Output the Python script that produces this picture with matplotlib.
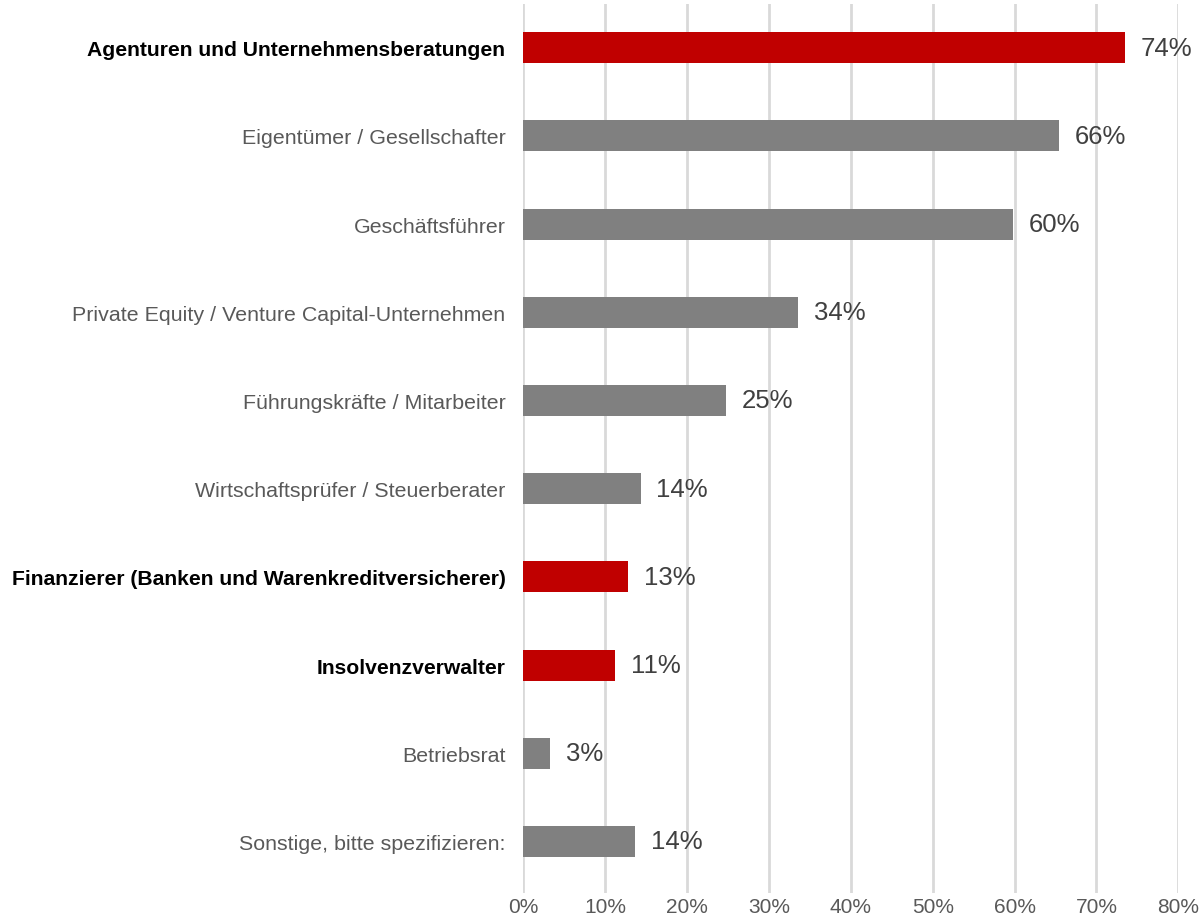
import numpy as np
import matplotlib.pyplot as plt

plt.rcParams['font.family'] = ['Liberation Sans', 'DejaVu Sans']

# Daten (von oben nach unten)
categories = [
    'Agenturen und Unternehmensberatungen',
    'Eigentümer / Gesellschafter',
    'Geschäftsführer',
    'Private Equity / Venture Capital-Unternehmen',
    'Führungskräfte / Mitarbeiter',
    'Wirtschaftsprüfer / Steuerberater',
    'Finanzierer (Banken und Warenkreditversicherer)',
    'Insolvenzverwalter',
    'Betriebsrat',
    'Sonstige, bitte spezifizieren:',
]
values = [73.5, 65.4, 59.8, 33.5, 24.7, 14.3, 12.8, 11.2, 3.2, 13.6]
value_labels = ['74%', '66%', '60%', '34%', '25%', '14%', '13%', '11%', '3%', '14%']
highlight = [True, False, False, False, False, False, True, True, False, False]
x_ticks = [0, 10, 20, 30, 40, 50, 60, 70, 80]

RED = '#c00000'
GRAY = '#808080'

fig = plt.figure(figsize=(11.99, 9.2), dpi=100)
ax = fig.add_axes([0.4366, 0.0283, 0.5461, 0.9667])

n = len(categories)
ypos = np.arange(n)[::-1]
colors = [RED if h else GRAY for h in highlight]
ax.barh(ypos, values, height=0.35, color=colors, zorder=3)

for y, v, lab in zip(ypos, values, value_labels):
    ax.annotate(lab, xy=(v, y), xytext=(11.5, 0), textcoords='offset points',
                ha='left', va='center', fontsize=18.5, color='#404040',
                annotation_clip=False)

ax.set_xlim(0, 80)
ax.set_ylim(-0.584, n - 0.5)
ax.set_xticks(x_ticks)
ax.set_xticklabels([f'{t}%' for t in x_ticks], fontsize=15, color='#595959')
ax.set_yticks(ypos)
ax.set_yticklabels(categories, fontsize=15.4)
for lbl, h in zip(ax.get_yticklabels(), highlight):
    if h:
        lbl.set_fontweight('bold')
        lbl.set_fontsize(15.2)
        lbl.set_color('black')
    else:
        lbl.set_color('#595959')

ax.tick_params(axis='y', length=0, pad=13)
ax.tick_params(axis='x', length=0, pad=3)
ax.grid(axis='x', color='#d9d9d9', linewidth=2, zorder=0)
for s in ax.spines.values():
    s.set_visible(False)

fig.savefig('out.png', dpi=100)
